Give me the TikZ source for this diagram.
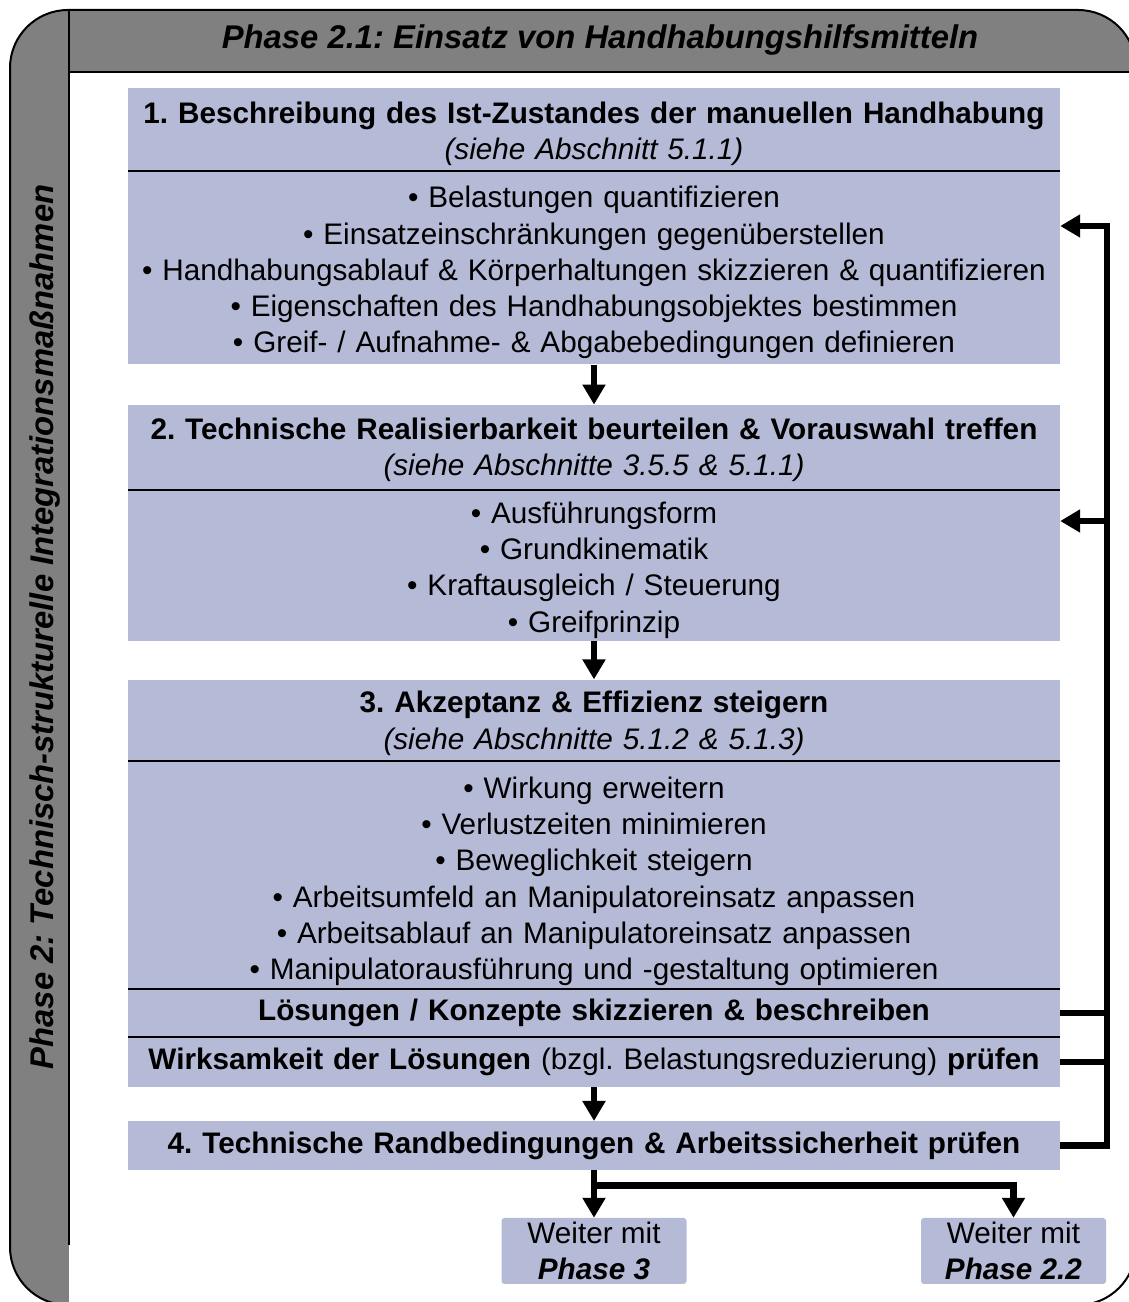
\documentclass[tikz,border=0pt]{standalone}
\usepackage{fontspec}
\setmainfont{Liberation Sans}
\usetikzlibrary{positioning,arrows.meta}
\frenchspacing

\definecolor{bandgrau}{RGB}{128,128,128}
\definecolor{kasten}{RGB}{181,186,214}

% Strebe fuer die erste Zeile mehrzeiliger Kaesten
\newcommand{\oben}[1]{\rule{0pt}{#1}}

\tikzset{
  box/.style={fill=kasten, inner sep=0pt, align=center, text width=932pt},
  trenn/.style={line width=2pt},
  fluss/.style={line width=6.5pt, -{Triangle[width=22pt,length=20pt]}},
  rueck/.style={line width=6.5pt},
  weiter/.style={fill=kasten, rounded corners=3pt, minimum width=185pt,
    minimum height=66pt, inner sep=0pt, align=center},
  titel/.style={font=\fontsize{32.8}{40}\selectfont\bfseries\itshape},
}

\begin{document}
\begin{tikzpicture}[x=1pt, y=1pt, font=\fontsize{29.7}{36.3}\selectfont]
    \useasboundingbox (0,0) rectangle (1129,1302);

    % Rahmen mit grauem Band oben und links
    \fill[bandgrau, rounded corners=58pt] (10,-3) rectangle (1136,1292);
    \begin{scope}
        \clip[rounded corners=58pt] (10,-3) rectangle (1136,1292);
        \fill[white] (69,-10) rectangle (1200,1230);
    \end{scope}
    \draw[line width=2pt, rounded corners=58pt] (10,-3) rectangle (1136,1292);
    \draw[line width=2pt] (69,1230) -- (1140,1230);
    \draw[line width=2pt] (69,1292) -- (69,57);

    \node[titel] (kopf) at (600,1261.5) {Phase 2.1: Einsatz von Handhabungshilfsmitteln};
    \node[titel, rotate=90] (phase) at (45.5,675) {Phase 2: Technisch-strukturelle Integrationsmaßnahmen};

    % Schritt 1
    \node[box, minimum height=83pt] (b1h) at (594,1172.5)
        {\oben{30pt}\textbf{1. Beschreibung des Ist-Zustandes der manuellen Handhabung}\\
         \textit{(siehe Abschnitt 5.1.1)}};
    \node[box, minimum height=193pt, below=0pt of b1h] (b1l)
        {\oben{31pt}• Belastungen quantifizieren\\
         • Einsatzeinschränkungen gegenüberstellen\\
         • Handhabungsablauf \& Körperhaltungen skizzieren \& quantifizieren\\
         • Eigenschaften des Handhabungsobjektes bestimmen\\
         • Greif- / Aufnahme- \& Abgabebedingungen definieren};

    % Schritt 2
    \node[box, minimum height=85pt, below=40pt of b1l] (b2h)
        {\oben{26pt}\textbf{2. Technische Realisierbarkeit beurteilen \& Vorauswahl treffen}\\
         \textit{(siehe Abschnitte 3.5.5 \& 5.1.1)}};
    \node[box, minimum height=151pt, below=0pt of b2h] (b2l)
        {\oben{30pt}• Ausführungsform\\
         • Grundkinematik\\
         • Kraftausgleich / Steuerung\\
         • Greifprinzip};

    % Schritt 3
    \node[box, minimum height=81pt, below=38pt of b2l] (b3h)
        {\oben{28pt}\textbf{3. Akzeptanz \& Effizienz steigern}\\
         \textit{(siehe Abschnitte 5.1.2 \& 5.1.3)}};
    \node[box, minimum height=228pt, below=0pt of b3h] (b3l)
        {\oben{34pt}• Wirkung erweitern\\
         • Verlustzeiten minimieren\\
         • Beweglichkeit steigern\\
         • Arbeitsumfeld an Manipulatoreinsatz anpassen\\
         • Arbeitsablauf an Manipulatoreinsatz anpassen\\
         • Manipulatorausführung und -gestaltung optimieren};
    \node[box, minimum height=47pt, below=0pt of b3l] (b3a)
        {\textbf{Lösungen / Konzepte skizzieren \& beschreiben}};
    \node[box, minimum height=50pt, below=0pt of b3a] (b3b)
        {\textbf{Wirksamkeit der Lösungen} (bzgl. Belastungsreduzierung) \textbf{prüfen}};

    % Schritt 4
    \node[box, minimum height=49pt, below=34pt of b3b] (b4)
        {\textbf{4. Technische Randbedingungen \& Arbeitssicherheit prüfen}};

    \foreach \n in {b1h,b2h,b3h,b3l,b3a}
        \draw[trenn] (\n.south west) -- (\n.south east);

    % Weiter mit ...
    \node[weiter] (p3) at (594,51) {Weiter mit\\\textbf{\textit{Phase 3}}};
    \node[weiter] (p22) at (1013.5,51) {Weiter mit\\\textbf{\textit{Phase 2.2}}};

    % Ablauf nach unten
    \draw[fluss] (b1l.south) -- (b2h.north);
    \draw[fluss] (b2l.south) -- (b3h.north);
    \draw[fluss] (b3b.south) -- (b4.north);
    \draw[fluss] (b4.south) -- (p3.north);
    \draw[fluss] (b4.south) -- ++(0,-15) -| (p22.north);

    % Ruecksprung rechts
    \coordinate (r1) at (1107,1076);
    \coordinate (r2) at (1107,781);
    \draw[fluss] (b4.east) -| (r1) -- (b1l.east |- r1);
    \draw[fluss] (r2) -- (b2l.east |- r2);
    \draw[rueck] (b3a.east) -- (b3a.east -| r1);
    \draw[rueck] (b3b.east) -- (b3b.east -| r1);
\end{tikzpicture}
\end{document}
